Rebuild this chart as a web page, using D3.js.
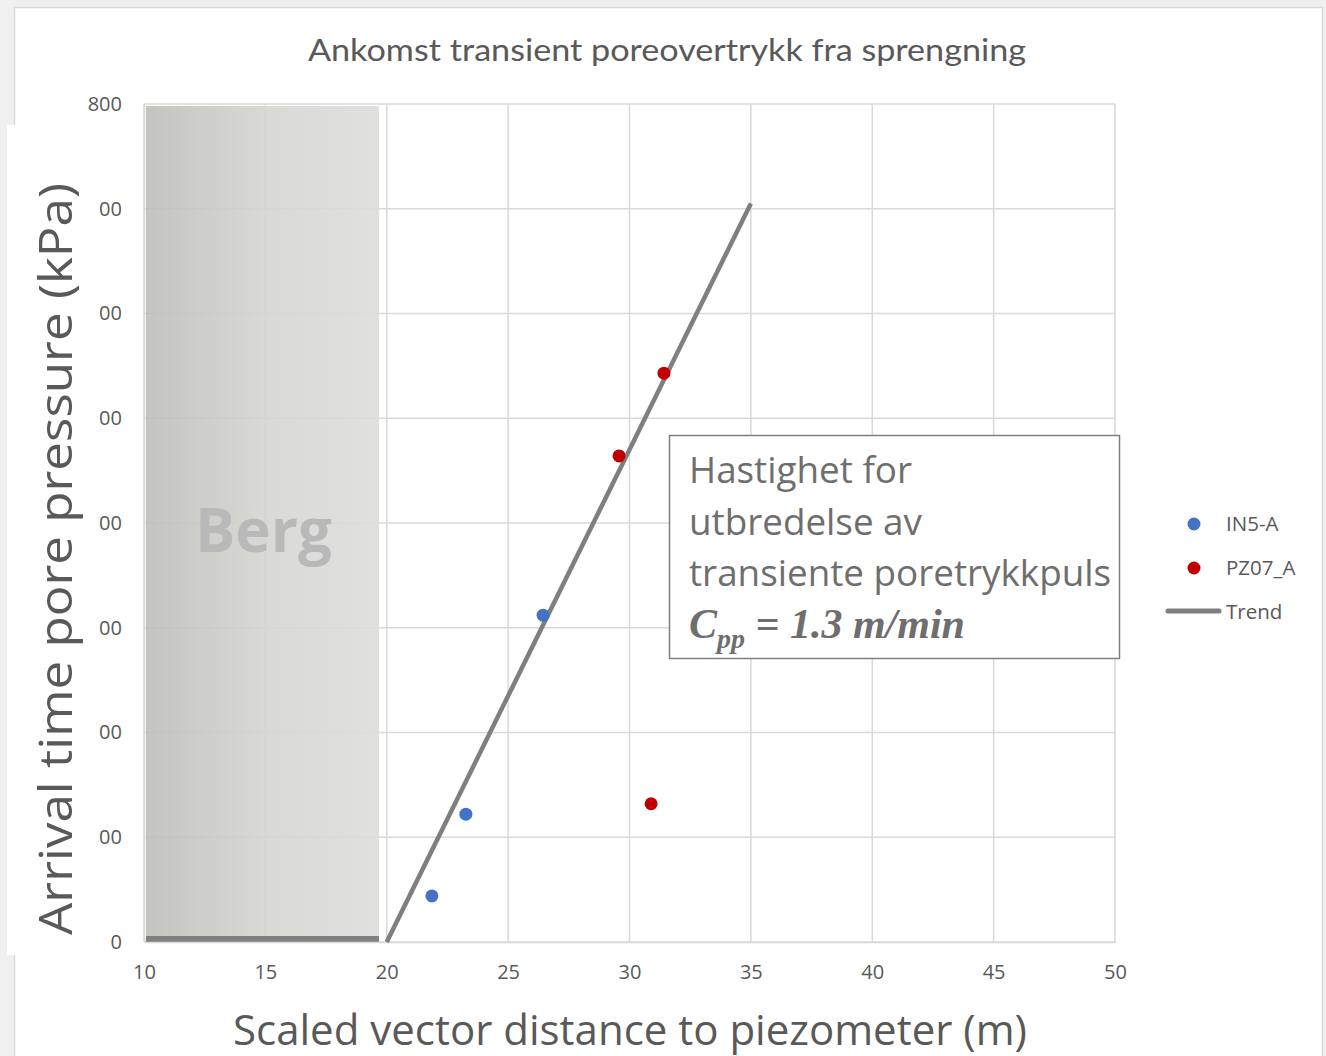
<!DOCTYPE html>
<html>
<head>
<meta charset="utf-8">
<script src="https://cdn.jsdelivr.net/npm/d3@7"></script>
<style>
  html, body { margin: 0; padding: 0; background: #f0f0f0; }
  svg { display: block; }
</style>
</head>
<body>
<svg id="chart" width="1326" height="1056"></svg>
<script>
// Series: scaled vector distance (m) vs arrival time
const in5X = [21.86, 23.26, 26.44];
const in5Y = [44, 122, 312];
const pz07X = [29.57, 31.42, 30.89];
const pz07Y = [464, 543, 132];
const trendX = [20, 35];
const trendY = [0, 705];
// Rock zone ("Berg") along the distance axis
const bergX = [10.08, 19.68];
const xTicks = [10, 15, 20, 25, 30, 35, 40, 45, 50];
const yTicks = [0, 100, 200, 300, 400, 500, 600, 700, 800];
const yTickLabels = ["0", "100", "200", "300", "400", "500", "600", "700", "800"];
const legendNames = ["IN5-A", "PZ07_A", "Trend"];
const noteLines = ["Hastighet for", "utbredelse av", "transiente poretrykkpuls"];

const svg = d3.select("#chart");
const font = "'Open Sans', sans-serif";
const textCol = "#595959";

const x = d3.scaleLinear().domain([10, 50]).range([144, 1115]);
const y = d3.scaleLinear().domain([0, 800]).range([942, 104]);

// chart area
svg.append("rect").attr("x", 14.5).attr("y", 7.5).attr("width", 1308).attr("height", 1060)
  .attr("fill", "#fff").attr("stroke", "#d9d9d9").attr("stroke-width", 1.5);

// title
svg.append("text").attr("x", 667).attr("y", 61).attr("text-anchor", "middle")
  .attr("font-family", "Lato, sans-serif").attr("font-size", 30).attr("fill", textCol)
  .attr("textLength", 718).attr("lengthAdjust", "spacingAndGlyphs")
  .text("Ankomst transient poreovertrykk fra sprengning");

// gridlines
const grid = svg.append("g").attr("stroke", "#d9d9d9").attr("stroke-width", 1.5);
grid.selectAll("line.v").data(xTicks).join("line")
  .attr("x1", d => x(d)).attr("x2", d => x(d)).attr("y1", y(800)).attr("y2", y(0));
grid.selectAll("line.h").data(yTicks).join("line")
  .attr("x1", x(10)).attr("x2", x(50)).attr("y1", d => y(d)).attr("y2", d => y(d));

// shaded rock zone
const defs = svg.append("defs");
const grad = defs.append("linearGradient").attr("id", "bergGrad")
  .attr("x1", "0%").attr("x2", "100%").attr("y1", "0%").attr("y2", "0%");
grad.append("stop").attr("offset", "0%").attr("stop-color", "#bdbdb8");
grad.append("stop").attr("offset", "55%").attr("stop-color", "#d6d6d3");
grad.append("stop").attr("offset", "100%").attr("stop-color", "#dcdcda");
svg.append("rect")
  .attr("x", x(bergX[0])).attr("y", y(800) + 2)
  .attr("width", x(bergX[1]) - x(bergX[0])).attr("height", y(0) - y(800) - 2)
  .attr("fill", "url(#bergGrad)").attr("opacity", 0.9);
svg.append("rect")
  .attr("x", x(bergX[0])).attr("y", y(0) - 6)
  .attr("width", x(bergX[1]) - x(bergX[0])).attr("height", 6)
  .attr("fill", "#808080");
svg.append("text").attr("x", (x(bergX[0]) + x(bergX[1])) / 2 + 1).attr("y", 552)
  .attr("text-anchor", "middle").attr("font-family", font).attr("font-weight", 700)
  .attr("font-size", 60).attr("fill", "#b9b9b9").text("Berg");

// axes
const xAxis = d3.axisBottom(x).tickValues(xTicks).tickSize(0).tickPadding(23);
const gx = svg.append("g").attr("transform", `translate(0,${y(0)})`).call(xAxis);
gx.select(".domain").attr("stroke", "#d9d9d9").attr("stroke-width", 1.5);
gx.selectAll("text").attr("font-family", font).attr("font-size", 20).attr("fill", textCol);

const yAxis = d3.axisLeft(y).tickValues(yTicks).tickSize(0).tickPadding(22)
  .tickFormat((d, i) => yTickLabels[i]);
const gy = svg.append("g").attr("transform", `translate(${x(10)},0)`).call(yAxis);
gy.select(".domain").attr("stroke", "#d9d9d9").attr("stroke-width", 1.5);
gy.selectAll("text").attr("font-family", font).attr("font-size", 20).attr("fill", textCol);

// trend line
svg.append("path")
  .datum(trendX.map((d, i) => [d, trendY[i]]))
  .attr("d", d3.line().x(d => x(d[0])).y(d => y(d[1])))
  .attr("fill", "none").attr("stroke", "#7f7f7f").attr("stroke-width", 4.5);

// points
svg.append("g").selectAll("circle").data(in5X.map((d, i) => [d, in5Y[i]])).join("circle")
  .attr("cx", d => x(d[0])).attr("cy", d => y(d[1])).attr("r", 6.5).attr("fill", "#4472c4");
svg.append("g").selectAll("circle").data(pz07X.map((d, i) => [d, pz07Y[i]])).join("circle")
  .attr("cx", d => x(d[0])).attr("cy", d => y(d[1])).attr("r", 6.5).attr("fill", "#c00000");

// annotation box
svg.append("rect").attr("x", 669.5).attr("y", 435.5).attr("width", 450).attr("height", 223)
  .attr("fill", "#fff").attr("stroke", "#7f7f7f").attr("stroke-width", 1.5);
svg.append("g").selectAll("text").data(noteLines).join("text")
  .attr("x", 689).attr("y", (d, i) => 483 + i * 51.5)
  .attr("font-family", font).attr("font-size", 36.8).attr("fill", "#6e6e6e")
  .text(d => d);
const eq = svg.append("text").attr("x", 689).attr("y", 638)
  .attr("font-family", "'Liberation Serif', 'Times New Roman', serif")
  .attr("font-style", "italic").attr("font-weight", 700).attr("font-size", 42).attr("fill", "#6e6e6e");
eq.append("tspan").text("C");
eq.append("tspan").attr("font-size", 28).attr("dy", 10).text("pp");
eq.append("tspan").attr("dy", -10).text(" = 1.3 m/min");

// legend
const leg = svg.append("g").attr("font-family", font).attr("font-size", 20.5).attr("fill", textCol);
leg.append("circle").attr("cx", 1194).attr("cy", 524).attr("r", 6.5).attr("fill", "#4472c4");
leg.append("circle").attr("cx", 1194).attr("cy", 568).attr("r", 6.5).attr("fill", "#c00000");
leg.append("line").attr("x1", 1168).attr("x2", 1219).attr("y1", 611).attr("y2", 611)
  .attr("stroke", "#7f7f7f").attr("stroke-width", 5).attr("stroke-linecap", "round");
leg.selectAll("text").data(legendNames).join("text")
  .attr("x", 1226).attr("y", (d, i) => 531 + i * 44)
  .text(d => d);

// axis titles
svg.append("rect").attr("x", 7).attr("y", 125).attr("width", 92).attr("height", 830).attr("fill", "#fff");
svg.append("text").attr("transform", "translate(72,559) rotate(-90)")
  .attr("text-anchor", "middle").attr("font-family", font).attr("font-size", 46).attr("fill", textCol)
  .attr("textLength", 752).attr("lengthAdjust", "spacingAndGlyphs")
  .text("Arrival time pore pressure (kPa)");
svg.append("text").attr("x", 630).attr("y", 1045)
  .attr("text-anchor", "middle").attr("font-family", font).attr("font-size", 42).attr("fill", textCol)
  .attr("textLength", 794).attr("lengthAdjust", "spacingAndGlyphs")
  .text("Scaled vector distance to piezometer (m)");
</script>
</body>
</html>
